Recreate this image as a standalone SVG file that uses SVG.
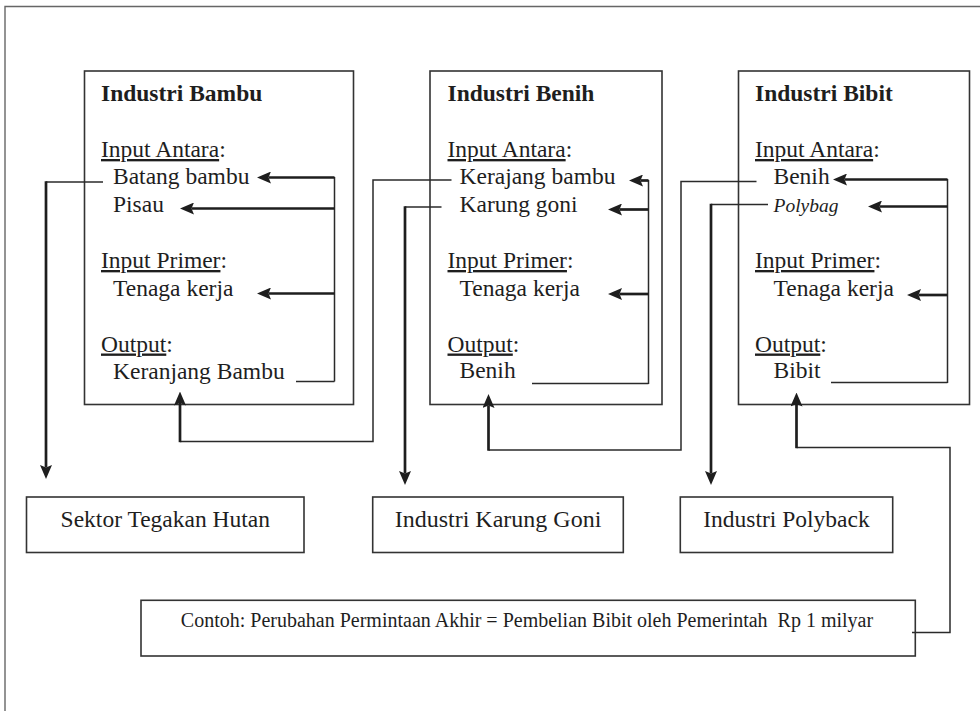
<svg xmlns="http://www.w3.org/2000/svg" width="980" height="711" viewBox="0 0 980 711">
<style>
.box{fill:none;stroke:#333;stroke-width:1.6}
.thin{fill:none;stroke:#2a2a2a;stroke-width:1.5}
.thick{fill:none;stroke:#1e1e1e;stroke-width:2.7;marker-end:url(#ah)}
.frame{fill:none;stroke:#666;stroke-width:1.4}
.u{text-decoration:underline}
</style>
<defs>
<marker id="ah" markerUnits="userSpaceOnUse" markerWidth="14" markerHeight="12" viewBox="0 0 14 12" refX="2.5" refY="6" orient="auto">
<path d="M0,0 L14,6 L0,12 L2.5,6 z" fill="#1e1e1e"/>
</marker>
</defs>
<rect width="980" height="711" fill="#fff"/>
<path class="frame" d="M5,711 V6.5 H980"/>

<g id="industri-bambu" fill="#1e1e1e">
<rect class="box" x="84.5" y="71" width="269" height="333.5"/>
<text font-family="Liberation Serif" font-size="23.5" font-weight="bold" x="101" y="101">Industri Bambu</text>
<text font-family="Liberation Serif" font-size="23.5" x="101" y="157"><tspan class="u">Input Antara</tspan>:</text>
<text font-family="Liberation Serif" font-size="23.5" x="113" y="184">Batang bambu</text>
<text font-family="Liberation Serif" font-size="23.5" x="113" y="211.5">Pisau</text>
<text font-family="Liberation Serif" font-size="23.5" x="101" y="268"><tspan class="u">Input Primer</tspan>:</text>
<text font-family="Liberation Serif" font-size="23.5" x="113" y="295.5">Tenaga kerja</text>
<text font-family="Liberation Serif" font-size="23.5" x="101" y="351.5"><tspan class="u">Output</tspan>:</text>
<text font-family="Liberation Serif" font-size="23.5" x="113" y="378.5">Keranjang Bambu</text>
</g>

<g id="industri-benih" fill="#1e1e1e">
<rect class="box" x="430" y="71" width="232" height="333.5"/>
<text font-family="Liberation Serif" font-size="23.5" font-weight="bold" x="447.5" y="101">Industri Benih</text>
<text font-family="Liberation Serif" font-size="23.5" x="447.5" y="157"><tspan class="u">Input Antara</tspan>:</text>
<text font-family="Liberation Serif" font-size="23.5" x="459.5" y="184">Kerajang bambu</text>
<text font-family="Liberation Serif" font-size="23.5" x="459.5" y="211.5">Karung goni</text>
<text font-family="Liberation Serif" font-size="23.5" x="447.5" y="268"><tspan class="u">Input Primer</tspan>:</text>
<text font-family="Liberation Serif" font-size="23.5" x="459.5" y="295.5">Tenaga kerja</text>
<text font-family="Liberation Serif" font-size="23.5" x="447.5" y="351.5"><tspan class="u">Output</tspan>:</text>
<text font-family="Liberation Serif" font-size="23.5" x="459.5" y="378">Benih</text>
</g>

<g id="industri-bibit" fill="#1e1e1e">
<rect class="box" x="738.5" y="71" width="231" height="333.5"/>
<text font-family="Liberation Serif" font-size="23.5" font-weight="bold" x="755" y="101">Industri Bibit</text>
<text font-family="Liberation Serif" font-size="23.5" x="755" y="157"><tspan class="u">Input Antara</tspan>:</text>
<text font-family="Liberation Serif" font-size="23.5" x="773.5" y="184">Benih</text>
<text font-family="Liberation Serif" font-size="19.5" font-style="italic" x="773.5" y="211.5">Polybag</text>
<text font-family="Liberation Serif" font-size="23.5" x="755" y="268"><tspan class="u">Input Primer</tspan>:</text>
<text font-family="Liberation Serif" font-size="23.5" x="773.5" y="295.5">Tenaga kerja</text>
<text font-family="Liberation Serif" font-size="23.5" x="755" y="351.5"><tspan class="u">Output</tspan>:</text>
<text font-family="Liberation Serif" font-size="23.5" x="773.5" y="378">Bibit</text>
</g>

<g id="sektor-tegakan-hutan" fill="#1e1e1e">
<rect class="box" x="26.5" y="497" width="277.5" height="55.5"/>
<text font-family="Liberation Serif" font-size="23.5" x="165.3" y="526.7" text-anchor="middle">Sektor Tegakan Hutan</text>
</g>

<g id="industri-karung-goni" fill="#1e1e1e">
<rect class="box" x="372.7" y="497" width="250.6" height="55.5"/>
<text font-family="Liberation Serif" font-size="24" x="498" y="526.7" text-anchor="middle">Industri Karung Goni</text>
</g>

<g id="industri-polyback" fill="#1e1e1e">
<rect class="box" x="680.3" y="497" width="212.4" height="55.5"/>
<text font-family="Liberation Serif" font-size="23.5" x="786.5" y="526.7" text-anchor="middle">Industri Polyback</text>
</g>

<g id="contoh" fill="#1e1e1e">
<rect class="box" x="141" y="600.3" width="774.3" height="55.7"/>
<text font-family="Liberation Serif" font-size="20" x="527" y="626.7" text-anchor="middle" xml:space="preserve">Contoh: Perubahan Permintaan Akhir = Pembelian Bibit oleh Pemerintah  Rp 1 milyar</text>
</g>

<g id="connectors">
<path class="thin" d="M334.5,177 V381.5 M296,381.5 H334.5"/>
<path class="thick" d="M334.5,177.5 H268.5"/>
<path class="thick" d="M334.5,208.5 H191.5"/>
<path class="thick" d="M334.5,293.5 H268.5"/>
<path class="thin" d="M103,182 H46"/>
<path class="thick" d="M46,181.3 V467.5"/>
<path class="thin" d="M451.5,180 H373 V441.5 H180"/>
<path class="thick" d="M180,442.2 V403"/>
<path class="thin" d="M648.5,180 V384 M532,383.5 H648.5"/>
<path class="thick" d="M648.5,180.5 H640.5"/>
<path class="thick" d="M648.5,209.5 H619.5"/>
<path class="thick" d="M648.5,294 H619.5"/>
<path class="thin" d="M441.5,207 H405"/>
<path class="thick" d="M405,206.3 V473.5"/>
<path class="thin" d="M756.5,181.5 H681 V450 H488.5"/>
<path class="thick" d="M488.5,450.7 V405.5"/>
<path class="thin" d="M947.5,179 V383 M831,382.5 H947.5"/>
<path class="thick" d="M947.5,179.5 H844.5"/>
<path class="thick" d="M947.5,206.5 H879.5"/>
<path class="thick" d="M947.5,295 H918.5"/>
<path class="thin" d="M768,204.5 H711"/>
<path class="thick" d="M711,203.8 V473.5"/>
<path class="thin" d="M912,632.5 H950 V447.5 H796.5"/>
<path class="thick" d="M796.5,448.2 V404"/>
</g>
</svg>
